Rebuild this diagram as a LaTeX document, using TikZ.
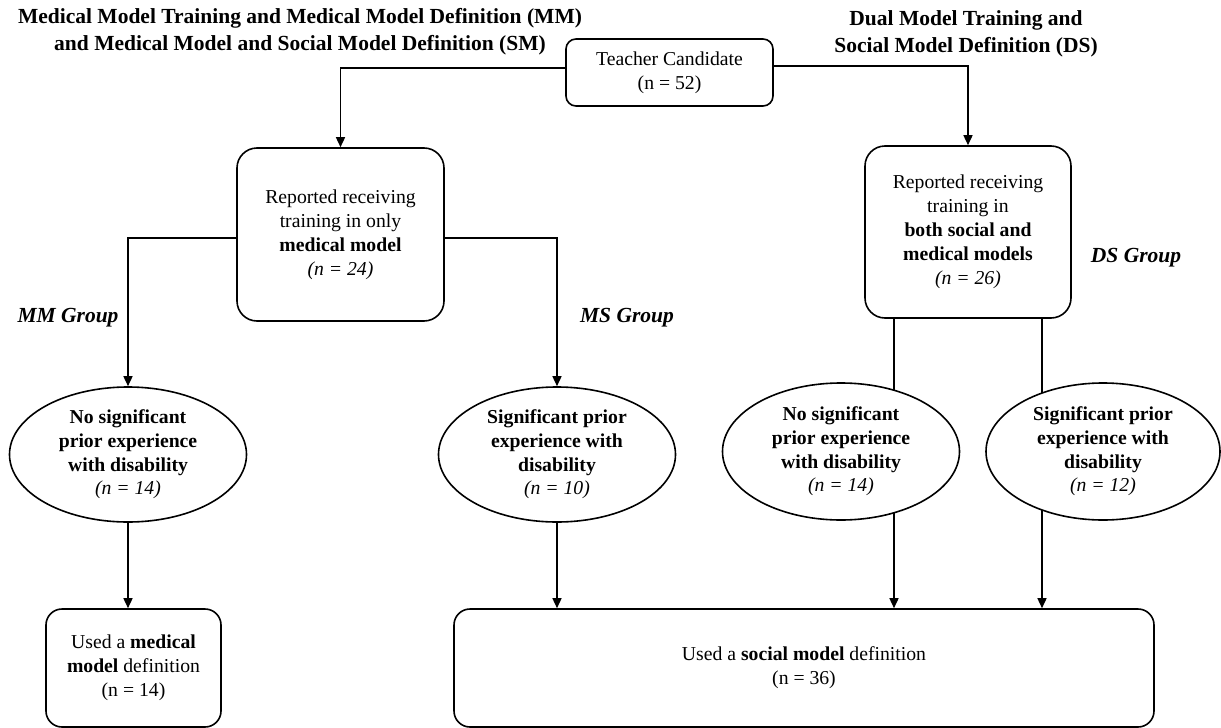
\documentclass[tikz,border=0pt]{standalone}
\usepackage{fontspec}
\setmainfont{Liberation Serif}
\usetikzlibrary{shapes.geometric,arrows.meta}
\pgfdeclarelayer{background}
\pgfsetlayers{background,main}
\begin{document}
\begin{tikzpicture}[x=1pt,y=-1pt,
  every node/.style={font=\fontsize{19.7}{24}\selectfont, align=center, inner sep=0pt},
  titletxt/.style={font=\fontsize{21.5}{27}\selectfont\bfseries},
  grp/.style={font=\fontsize{21.5}{26}\selectfont\bfseries\itshape},
  rbox/.style={draw, line width=1.6pt, fill=white, rounded corners=#1},
  ell/.style={ellipse, draw, line width=1.6pt, fill=white, minimum width=237pt, minimum height=135pt,
    font=\fontsize{19.7}{23.7}\selectfont\bfseries},
  ln/.style={line width=1.5pt},
  arr/.style={line width=1.5pt, -{Triangle[length=10pt,width=9pt]}}]
\begin{pgfonlayer}{background}
\fill[white] (0,0) rectangle (1221,728);
\end{pgfonlayer}
\useasboundingbox (0,0) rectangle (1221,728);

% titles
\node[titletxt] (t1) at (300,31.5) {Medical Model Training and Medical Model Definition (MM)\\and Medical Model and Social Model Definition (SM)};
\node[titletxt] (t2) at (966,34) {Dual Model Training and\\Social Model Definition (DS)};

% boxes
\node[rbox=10pt, minimum width=207pt, minimum height=67pt] (tc) at (669.5,72.5) {Teacher Candidate\\(n = 52)};
\node[rbox=20pt, minimum width=207pt, minimum height=173pt] (lb) at (340.5,234.5)
  {Reported receiving\\training in only\\\textbf{medical model}\\\textit{(n = 24)}};
\node[rbox=20pt, minimum width=206pt, minimum height=172pt] (rb) at (968,232)
  {Reported receiving\\training in\\\textbf{both social and}\\\textbf{medical models}\\\textit{(n = 26)}};

% group labels
\node[grp] (mm) at (68,318) {MM Group};
\node[grp] (ms) at (627,318) {MS Group};
\node[grp] (ds) at (1136,258) {DS Group};

% ellipses
\node[ell] (e1) at (128,454.5) {No significant\\prior experience\\with disability\\{\mdseries\itshape (n = 14)}};
\node[ell] (e2) at (557,454.5) {Significant prior\\experience with\\disability\\{\mdseries\itshape (n = 10)}};
\node[ell, minimum height=137pt] (e3) at (841,451.5) {No significant\\prior experience\\with disability\\{\mdseries\itshape (n = 14)}};
\node[ell, minimum width=234pt, minimum height=137pt] (e4) at (1103,451.5) {Significant prior\\experience with\\disability\\{\mdseries\itshape (n = 12)}};

% outcome boxes
\node[rbox=16pt, minimum width=175pt, minimum height=118pt] (bl) at (133.5,668)
  {Used a \textbf{medical}\\\textbf{model} definition\\(n = 14)};
\node[rbox=16pt, minimum width=700pt, minimum height=118pt] (big) at (804,668)
  {Used a \textbf{social model} definition\\(n = 36)};

% connectors
\draw[arr] ([yshift=4.5pt]tc.west) -| (lb.north);
\draw[arr] ([yshift=6.5pt]tc.east) -| (rb.north);
\draw[arr] ([yshift=-3.5pt]lb.west) -| (e1.north);
\draw[arr] ([yshift=-3.5pt]lb.east) -| (e2.north);
\draw[arr] (e1.south) -- (e1.south |- bl.north);
\draw[arr] (e2.south) -- (e2.south |- big.north);

\coordinate (k3) at (894,0);
\coordinate (k4) at (1042,0);
\begin{pgfonlayer}{background}
\draw[ln] (rb.south -| k3) -- (e3.center -| k3);
\draw[arr] (e3.center -| k3) -- (big.north -| k3);
\draw[ln] (rb.south -| k4) -- (e4.center -| k4);
\draw[arr] (e4.center -| k4) -- (big.north -| k4);
\end{pgfonlayer}
\end{tikzpicture}
\end{document}
